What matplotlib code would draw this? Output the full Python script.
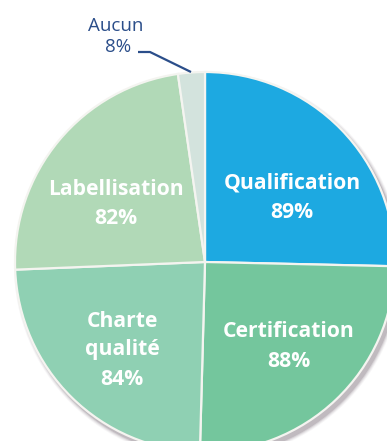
import matplotlib
matplotlib.use("Agg")
import matplotlib.pyplot as plt
from matplotlib.patches import Circle

categories = ["Qualification", "Certification", "Charte\nqualité", "Labellisation", "Aucun"]
values = [89, 88, 84, 82, 8]
colors = ["#1DA9E1", "#74C69D", "#8FD0B3", "#B1D9B7", "#D3E3DD"]

W, H = 387, 441
fig = plt.figure(figsize=(W / 100, H / 100), dpi=100)
ax = fig.add_axes([0, 0, 1, 1])

cx, cy, r = 205, H - 262, 190

# soft drop shadow
for i, a in enumerate([0.05, 0.08, 0.12, 0.18]):
    ax.add_patch(Circle((cx + 3, cy - 4), r + 4 - i, color="#5a4a55", alpha=a, lw=0, zorder=0))

wedges, _ = ax.pie(values, colors=colors, startangle=90, counterclock=False,
                   center=(cx, cy), radius=r, frame=True,
                   wedgeprops=dict(edgecolor="#F4F4F0", linewidth=1.6))
ax.set_xlim(0, W)
ax.set_ylim(0, H)
ax.set_aspect("equal")
ax.axis("off")

font = ["Open Sans", "DejaVu Sans"]
fs = 15.2
# (x, [baselines for name lines], baseline for percentage)
layout = [(292, [188], 218), (289, [337], 367), (122, [327, 355], 385), (116, [195], 224)]
for i in range(4):
    x, ys, yp = layout[i]
    for line, y in zip(categories[i].split("\n"), ys):
        ax.text(x, H - y, line, color="white", fontsize=fs,
                fontweight="bold", family=font, ha="center", va="baseline")
    ax.text(x, H - yp, f"{values[i]}%", color="white", fontsize=fs,
            fontweight="bold", family=font, ha="center", va="baseline")

# Aucun outside label with leader line
ax.text(116, H - 31, categories[4], color="#2B4E8A", fontsize=13.5, family=font,
        ha="center", va="baseline")
ax.text(118, H - 52, f"{values[4]}%", color="#2B4E8A", fontsize=13.5, family=font,
        ha="center", va="baseline")
ax.plot([138, 150, 191], [H - 52, H - 52, H - 72], color="#2B4E8A", lw=1.6,
        solid_capstyle="butt")

fig.savefig("out.png", dpi=100, facecolor="white")
